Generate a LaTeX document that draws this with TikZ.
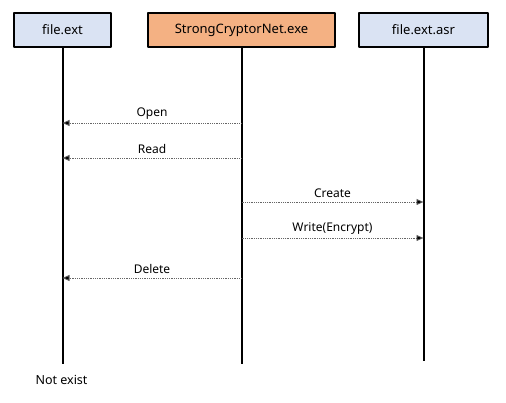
\documentclass[tikz,border=0pt]{standalone}
\usepackage{fontspec}
\setmainfont{Noto Sans}
\usepackage{xcolor}
\usepackage{tikz}
\usetikzlibrary{arrows.meta}
\usetikzlibrary{positioning}

\begin{document}
\begin{tikzpicture}[
      x=1pt, y=-1pt,
      line join=round
  ]

  % Colori
  \definecolor{filefill}{RGB}{218, 227, 243}
  \definecolor{procfill}{RGB}{244, 177, 131}

  \tikzset{
      actor/.style={draw=black, line width=1.8pt, minimum height=34pt,
                    inner sep=0pt, font=\fontsize{13}{15}\selectfont},
      life/.style={draw=black, line width=2pt},
      msg/.style={draw=black!60, densely dotted, line width=0.8pt,
                  -{Triangle[length=7pt, width=6pt, fill=black]}},
      lbl/.style={font=\fontsize{12}{14}\selectfont, above, inner sep=3.5pt}
  }

  \useasboundingbox (0,0) rectangle (506,403);

  % 1. Partecipanti
  \node[actor, fill=filefill, minimum width=97pt]  (ext) at (62.5,30)  {file.ext};
  \node[actor, fill=procfill, minimum width=187pt] (net) at (241.5,30) {StrongCryptorNet.exe};
  \node[actor, fill=filefill, minimum width=129pt] (asr) at (423.5,30) {file.ext.asr};

  % 2. Linee di vita
  \coordinate (extend) at (ext.south |- 0,364);
  \coordinate (netend) at (net.south |- 0,364);
  \coordinate (asrend) at (asr.south |- 0,361);
  \draw[life] (ext.south) -- (extend);
  \draw[life] (net.south) -- (netend);
  \draw[life] (asr.south) -- (asrend);

  % 3. Messaggi
  \draw[msg] (net.south |- 0,123) -- node[lbl] {Open}           (ext.south |- 0,123);
  \draw[msg] (net.south |- 0,158) -- node[lbl] {Read}           (ext.south |- 0,158);
  \draw[msg] (net.south |- 0,202) -- node[lbl] {Create}         (asr.south |- 0,202);
  \draw[msg] (net.south |- 0,238) -- node[lbl] {Write(Encrypt)} (asr.south |- 0,238);
  \draw[msg] (net.south |- 0,278) -- node[lbl] {Delete}         (ext.south |- 0,278);

  % Nota finale
  \node[font=\fontsize{12.5}{14}\selectfont, below=8pt of extend, xshift=-1pt] (gone) {Not exist};

\end{tikzpicture}
\end{document}
